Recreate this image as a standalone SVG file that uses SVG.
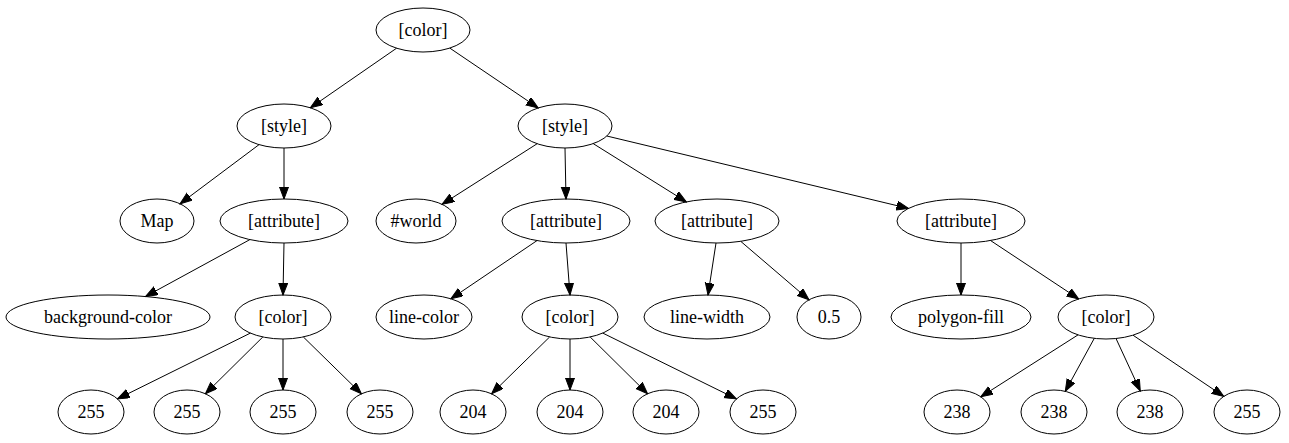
<svg xmlns="http://www.w3.org/2000/svg" width="1289" height="443" viewBox="0 0 1289 443">
<style>
ellipse{fill:none;stroke:#000;stroke-width:1}
text{font-family:"Liberation Serif","Times New Roman",serif;font-size:18px;text-anchor:middle;fill:#000}
.e line{stroke:#000;stroke-width:1;marker-end:url(#ah)}
</style>
<defs>
<marker id="ah" markerUnits="userSpaceOnUse" markerWidth="13" markerHeight="10" refX="12" refY="4.5" orient="auto">
<path d="M0,0 L12,4.5 L0,9 z" fill="#000" stroke="#000" stroke-width="1"/>
</marker>
</defs>
<rect width="1289" height="443" fill="#fff"/>
<g class="e" id="edges">
<line x1="396.6" y1="48.2" x2="310.4" y2="107.8"/>
<line x1="449.8" y1="48.1" x2="538.2" y2="107.9"/>
<line x1="259.1" y1="144.6" x2="180.0" y2="203.8"/>
<line x1="284" y1="148" x2="284" y2="199"/>
<line x1="537.2" y1="143.7" x2="442.1" y2="204.3"/>
<line x1="565" y1="148" x2="566" y2="199"/>
<line x1="593.2" y1="143.6" x2="686.4" y2="201.9"/>
<line x1="606.8" y1="136.0" x2="908.5" y2="208.4"/>
<line x1="249.9" y1="239.6" x2="145.5" y2="296.5"/>
<line x1="284" y1="243" x2="283" y2="295"/>
<line x1="537.0" y1="240.6" x2="450.9" y2="298.8"/>
<line x1="566" y1="243" x2="570" y2="295"/>
<line x1="716" y1="243" x2="708" y2="295"/>
<line x1="740.7" y1="241.3" x2="809.0" y2="299.8"/>
<line x1="961" y1="243" x2="961" y2="295"/>
<line x1="990.5" y1="240.5" x2="1078.7" y2="298.9"/>
<line x1="250.4" y1="333.1" x2="117.5" y2="398.9"/>
<line x1="262.8" y1="337.0" x2="205.4" y2="393.8"/>
<line x1="283" y1="339" x2="283" y2="390"/>
<line x1="303.4" y1="337.0" x2="361.4" y2="393.8"/>
<line x1="549.6" y1="337.0" x2="491.6" y2="393.8"/>
<line x1="570" y1="339" x2="570" y2="390"/>
<line x1="590.2" y1="337.0" x2="647.6" y2="393.8"/>
<line x1="602.8" y1="333.1" x2="736.4" y2="398.9"/>
<line x1="1078.0" y1="334.9" x2="980.8" y2="396.8"/>
<line x1="1094.3" y1="338.3" x2="1065.3" y2="391.3"/>
<line x1="1116.0" y1="338.5" x2="1140.3" y2="391.0"/>
<line x1="1133.0" y1="335.2" x2="1223.8" y2="396.4"/>
</g>
<g id="n0"><ellipse cx="423" cy="30" rx="47" ry="22"/><text x="423" y="36">[color]</text></g>
<g id="n1"><ellipse cx="284" cy="126" rx="47" ry="22"/><text x="284" y="132">[style]</text></g>
<g id="n2"><ellipse cx="565" cy="126" rx="47" ry="22"/><text x="565" y="132">[style]</text></g>
<g id="n3"><ellipse cx="157" cy="221" rx="37" ry="22"/><text x="157" y="227">Map</text></g>
<g id="n4"><ellipse cx="284" cy="221" rx="64" ry="22"/><text x="284" y="227">[attribute]</text></g>
<g id="n5"><ellipse cx="416" cy="221" rx="40" ry="22"/><text x="416" y="227">#world</text></g>
<g id="n6"><ellipse cx="566" cy="221" rx="64" ry="22"/><text x="566" y="227">[attribute]</text></g>
<g id="n7"><ellipse cx="717" cy="221" rx="62" ry="22"/><text x="717" y="227">[attribute]</text></g>
<g id="n8"><ellipse cx="961" cy="221" rx="64" ry="22"/><text x="961" y="227">[attribute]</text></g>
<g id="n9"><ellipse cx="108" cy="317" rx="102" ry="22"/><text x="108" y="323">background-color</text></g>
<g id="n10"><ellipse cx="283" cy="317" rx="48" ry="22"/><text x="283" y="323">[color]</text></g>
<g id="n11"><ellipse cx="424" cy="317" rx="48" ry="22"/><text x="424" y="323">line-color</text></g>
<g id="n12"><ellipse cx="570" cy="317" rx="48" ry="22"/><text x="570" y="323">[color]</text></g>
<g id="n13"><ellipse cx="707" cy="317" rx="63" ry="22"/><text x="707" y="323">line-width</text></g>
<g id="n14"><ellipse cx="829" cy="317" rx="32" ry="22"/><text x="829" y="323">0.5</text></g>
<g id="n15"><ellipse cx="961" cy="317" rx="70" ry="22"/><text x="961" y="323">polygon-fill</text></g>
<g id="n16"><ellipse cx="1106" cy="317" rx="48" ry="22"/><text x="1106" y="323">[color]</text></g>
<g id="n17"><ellipse cx="91" cy="412" rx="33" ry="22"/><text x="91" y="418">255</text></g>
<g id="n18"><ellipse cx="187" cy="412" rx="33" ry="22"/><text x="187" y="418">255</text></g>
<g id="n19"><ellipse cx="283" cy="412" rx="33" ry="22"/><text x="283" y="418">255</text></g>
<g id="n20"><ellipse cx="380" cy="412" rx="33" ry="22"/><text x="380" y="418">255</text></g>
<g id="n21"><ellipse cx="473" cy="412" rx="33" ry="22"/><text x="473" y="418">204</text></g>
<g id="n22"><ellipse cx="570" cy="412" rx="33" ry="22"/><text x="570" y="418">204</text></g>
<g id="n23"><ellipse cx="666" cy="412" rx="33" ry="22"/><text x="666" y="418">204</text></g>
<g id="n24"><ellipse cx="763" cy="412" rx="33" ry="22"/><text x="763" y="418">255</text></g>
<g id="n25"><ellipse cx="957" cy="412" rx="33" ry="22"/><text x="957" y="418">238</text></g>
<g id="n26"><ellipse cx="1054" cy="412" rx="33" ry="22"/><text x="1054" y="418">238</text></g>
<g id="n27"><ellipse cx="1150" cy="412" rx="33" ry="22"/><text x="1150" y="418">238</text></g>
<g id="n28"><ellipse cx="1247" cy="412" rx="33" ry="22"/><text x="1247" y="418">255</text></g>
</svg>
